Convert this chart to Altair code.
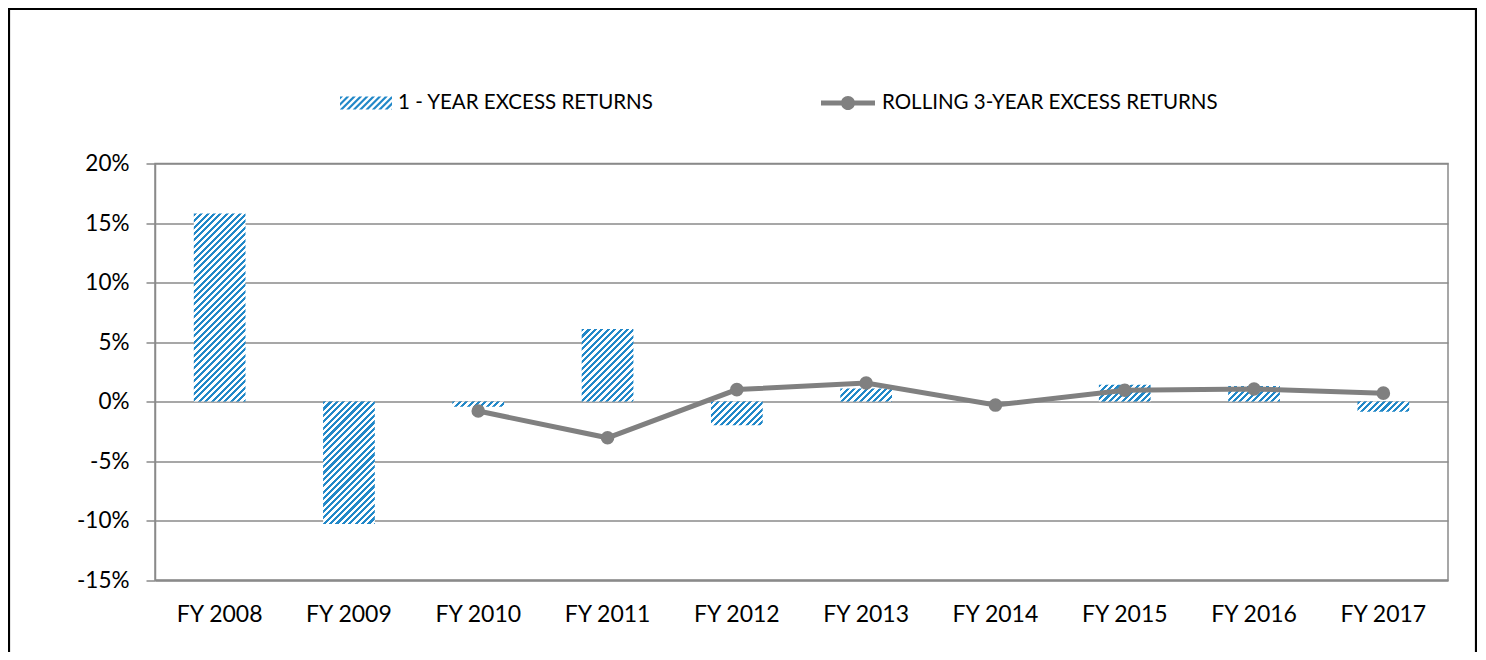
import math
import altair as alt
import pandas as pd

# ---------------- data ----------------
years = ["FY 2008", "FY 2009", "FY 2010", "FY 2011", "FY 2012",
         "FY 2013", "FY 2014", "FY 2015", "FY 2016", "FY 2017"]
one_year = [15.8, -10.3, -0.45, 6.1, -2.0, 1.1, 0.0, 1.4, 1.3, -0.87]
rolling = [None, None, -0.8, -3.05, 1.0, 1.55, -0.3, 0.95, 1.05, 0.7]
y_ticks = [-15, -10, -5, 0, 5, 10, 15, 20]
series_bar = "1 - YEAR EXCESS RETURNS"
series_line = "ROLLING 3-YEAR EXCESS RETURNS"

# ---------------- style ----------------
PLOT_W = 1293
PLOT_H = 416.5
Y_MIN, Y_MAX = -15, 20
BLUE = "#2288c8"
WHITE = "#ffffff"
GRAY = "#808080"
GRID = "#8a8a8a"
FONT = "Lato"
PERIOD = 6.4          # stripe period (px, horizontal)
BLUE_FRAC = 0.48
BAND_FRAC = 0.4       # bar width / band step

df = pd.DataFrame({"year": years, "one": one_year, "roll": rolling})


def hatch_gradient(w, h, period=PERIOD):
    """Linear gradient (bbox units) that renders 45-degree '/' stripes."""
    L = w + h
    k = L / (w * w + h * h)
    stops = []
    n = math.ceil(L / period)
    for i in range(n):
        o0 = round(min(i * period / L, 1), 5)
        o1 = round(min((i + BLUE_FRAC) * period / L, 1), 5)
        o2 = round(min((i + 1) * period / L, 1), 5)
        stops += [{"offset": o0, "color": BLUE}, {"offset": o1, "color": BLUE},
                  {"offset": o1, "color": WHITE}, {"offset": o2, "color": WHITE}]
    return {"gradient": "linear", "x1": 0, "y1": 0,
            "x2": round(w * k, 5), "y2": round(h * k, 5), "stops": stops}


def clip(poly, f):
    out = []
    n = len(poly)
    for i in range(n):
        p, q = poly[i], poly[(i + 1) % n]
        fp, fq = f(p), f(q)
        if fp >= 0:
            out.append(p)
        if (fp >= 0) != (fq >= 0):
            t = fp / (fp - fq)
            out.append((p[0] + t * (q[0] - p[0]), p[1] + t * (q[1] - p[1])))
    return out


def hatch_symbol(half_h=0.25, period=0.246):
    box = [(-1, -half_h), (1, -half_h), (1, half_h), (-1, half_h)]
    parts = []
    c = -1 - half_h - period
    while c < 1 + half_h:
        poly = clip(box, lambda p, c=c: p[0] + p[1] - c)
        poly = clip(poly, lambda p, c=c: c + period * BLUE_FRAC - (p[0] + p[1]))
        if len(poly) >= 3:
            parts.append("M" + " L".join(f"{x:.4f},{y:.4f}" for x, y in poly) + " Z")
        c += period
    return " ".join(parts)


line_symbol = ("M-1,-0.09 H1 V0.09 H-1 Z "
               "M-0.26,0 A0.26,0.26 0 1,1 0.26,0 A0.26,0.26 0 1,1 -0.26,0 Z")

x_enc = alt.X("year:N", sort=years,
              scale=alt.Scale(domain=years, paddingInner=1 - BAND_FRAC,
                              paddingOuter=(1 - BAND_FRAC) / 2),
              axis=alt.Axis(title=None, labelAngle=0, ticks=False, tickSize=0,
                            labelPadding=23, labelFontSize=23, grid=False,
                            domainColor=GRID, domainWidth=1.5))


def y_enc(field):
    return alt.Y(f"{field}:Q",
                 scale=alt.Scale(domain=[Y_MIN, Y_MAX], nice=False, zero=False),
                 axis=alt.Axis(title=None, values=y_ticks, grid=True,
                               labelExpr="datum.value + '%'", labelFontSize=22.5,
                               tickSize=9, labelPadding=17, tickColor=GRID,
                               tickWidth=1.5, domainColor=GRID, domainWidth=1.5))


base = alt.Chart(df)

# outer frame (clipped at the bottom by the canvas)
frame = alt.Chart(pd.DataFrame({"k": [0]})).mark_rect(
    fillOpacity=0, stroke="black", strokeWidth=2.2
).encode(x=alt.value(-146), x2=alt.value(1321), y=alt.value(-154.5), y2=alt.value(700))

step = PLOT_W / len(years)
bar_w = step * BAND_FRAC
bar_layers = []
for yr, v in zip(years, one_year):
    h = abs(v) * PLOT_H / (Y_MAX - Y_MIN)
    fill = hatch_gradient(bar_w, h) if h > 0.5 else BLUE
    bar_layers.append(
        base.transform_filter(alt.datum.year == yr)
        .mark_bar(fill=fill, strokeWidth=0)
        .encode(x=x_enc, y=y_enc("one"), y2=alt.datum(0))
    )

line = base.transform_filter("isValid(datum.roll)").mark_line(
    color=GRAY, strokeWidth=5
).encode(x=x_enc, y=y_enc("roll"))

points = base.transform_filter("isValid(datum.roll)").mark_circle(
    color=GRAY, size=185, opacity=1
).encode(x=x_enc, y=y_enc("roll"))

leg_a = alt.Chart(pd.DataFrame({"s": [series_bar]})).mark_point(
    opacity=0, filled=True, color=BLUE
).encode(
    shape=alt.Shape("s:N", scale=alt.Scale(domain=[series_bar], range=[hatch_symbol()]),
                    legend=alt.Legend(orient="none", legendX=185, legendY=-86.5, title=None,
                                      symbolSize=2704, symbolFillColor=BLUE,
                                      symbolStrokeWidth=0, symbolOpacity=1,
                                      labelOffset=6, labelLimit=800, padding=0))
)

leg_b = alt.Chart(pd.DataFrame({"s": [series_line]})).mark_point(opacity=0, filled=True).encode(
    color=alt.Color("s:N", scale=alt.Scale(domain=[series_line], range=[GRAY]),
                    legend=alt.Legend(orient="none", legendX=666, legendY=-87.5, title=None,
                                      symbolType=line_symbol, symbolSize=2916,
                                      symbolStrokeWidth=0, symbolOpacity=1,
                                      labelOffset=7, labelLimit=800, padding=0))
)

chart = alt.layer(frame, *bar_layers, line, points, leg_a, leg_b).properties(
    width=PLOT_W, height=PLOT_H,
    padding={"left": 147, "top": 155.5, "right": 29, "bottom": 72},
    autosize=alt.AutoSizeParams(type="none"),
    background="white",
).configure_view(
    stroke=GRID, strokeWidth=1.5, fill="white"
).configure_axis(
    labelFont=FONT, labelColor="black", gridColor=GRID, gridWidth=1.4,
).configure_legend(
    labelFont=FONT, labelFontSize=20.5, labelColor="black",
)

chart.save("out.html", embed_options={"renderer": "svg", "actions": False})
